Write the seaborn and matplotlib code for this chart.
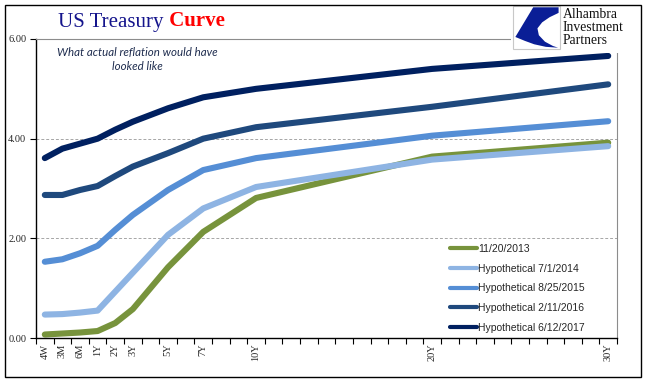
import matplotlib
matplotlib.use("Agg")
import matplotlib.pyplot as plt
from matplotlib.patches import Rectangle, Polygon
import numpy as np
import pandas as pd
import seaborn as sns

sns.set_theme(style="white")
plt.rcParams['font.family'] = ['Liberation Serif', 'DejaVu Serif']

# tenors and their slot on the category axis (one slot per year past 1Y)
tenors = ["4W", "3M", "6M", "1Y", "2Y", "3Y", "5Y", "7Y", "10Y", "20Y", "30Y"]
slots = [0, 1, 2, 3, 4, 5, 7, 9, 12, 22, 32]

curve_2013 = [0.07, 0.09, 0.11, 0.14, 0.30, 0.58, 1.42, 2.13, 2.81, 3.64, 3.92]
hyp_2014 = [0.47, 0.48, 0.51, 0.55, 0.93, 1.31, 2.07, 2.60, 3.03, 3.58, 3.85]
hyp_2015 = [1.53, 1.58, 1.70, 1.85, 2.17, 2.47, 2.97, 3.37, 3.61, 4.06, 4.35]
hyp_2016 = [2.87, 2.87, 2.97, 3.05, 3.25, 3.44, 3.71, 4.00, 4.23, 4.64, 5.09]
hyp_2017 = [3.61, 3.80, 3.90, 4.00, 4.18, 4.34, 4.61, 4.83, 5.00, 5.40, 5.66]

series_names = ["11/20/2013", "Hypothetical 7/1/2014", "Hypothetical 8/25/2015",
                "Hypothetical 2/11/2016", "Hypothetical 6/12/2017"]
series_vals = [curve_2013, hyp_2014, hyp_2015, hyp_2016, hyp_2017]
colors = ["#77933C", "#8EB4E3", "#558ED5", "#1F497D", "#002060"]

rows = []
for name, vals in zip(series_names, series_vals):
    for t, s, v in zip(tenors, slots, vals):
        rows.append({"series": name, "tenor": t, "slot": s, "value": v})
df = pd.DataFrame(rows)

W, H = 647, 381
fig = plt.figure(figsize=(W / 100, H / 100), dpi=100)
fig.patch.set_facecolor("white")
ax = fig.add_axes([36 / W, 1 - 338 / H, (617 - 36) / W, (338 - 39) / H])

sns.lineplot(data=df, x="slot", y="value", hue="series", hue_order=series_names,
             palette=colors, linewidth=4.4, sort=False, ax=ax,
             solid_capstyle="round", solid_joinstyle="round")

ax.set_xlim(-0.5, 32.5)
ax.set_ylim(0, 6)
ax.set_xlabel("")
ax.set_ylabel("")

# y axis
ax.set_yticks([0, 2, 4, 6])
ax.set_yticklabels(["%.2f" % v for v in [0, 2, 4, 6]], fontsize=7.5)
ax.yaxis.grid(True, linestyle=(0, (3, 2)), color="#A6A6A6", linewidth=0.7)
ax.tick_params(axis="y", direction="out", length=4, width=0.8, color="black",
               pad=3, left=True)

# x axis: ticks at category boundaries, labels at category centres
ax.set_xticks(np.arange(-0.5, 33, 1))
ax.set_xticklabels([])
ax.tick_params(axis="x", which="major", direction="out", length=4, width=0.8,
               color="black", bottom=True)
ax.set_xticks(slots, minor=True)
ax.set_xticklabels(tenors, minor=True, rotation=90, fontsize=7.5)
ax.tick_params(axis="x", which="minor", length=0, pad=4, bottom=True)

for side in ["left", "bottom"]:
    ax.spines[side].set_color("black")
    ax.spines[side].set_linewidth(1.0)
for side in ["top", "right"]:
    ax.spines[side].set_color("#8C8C8C")
    ax.spines[side].set_linewidth(0.8)

# legend
handles, labels = ax.get_legend_handles_labels()
leg = ax.legend(handles, labels, loc="upper left",
                bbox_to_anchor=(450 / W, 1 - 244 / H),
                bbox_transform=fig.transFigure, frameon=False,
                prop={"family": "Liberation Sans", "size": 7.5},
                handlelength=2.6, handletextpad=0.1, labelspacing=0.93,
                borderpad=0, borderaxespad=0)
for line in leg.get_lines():
    line.set_linewidth(3.0)
    line.set_solid_capstyle("round")

# title
t1 = fig.text(58 / W, 1 - 31.5 / H, "US Treasury", color="#14148C",
              fontsize=15, va="bottom", ha="left", family="Liberation Serif")
ax.annotate(" Curve", xy=(1, 0), xycoords=t1, va="bottom", ha="left",
            color="#FF0000", fontsize=15, fontweight="bold",
            family="Liberation Serif", annotation_clip=False)

# note
fig.text(137 / W, 1 - 59.5 / H, "What actual reflation would have\nlooked like",
         fontsize=8.3, style="italic", family="Lato", color="#1F2D4F",
         ha="center", va="center", linespacing=1.25)

# logo box
fig.add_artist(Rectangle((511 / W, 1 - 53 / H), (637 - 511) / W, (53 - 5) / H,
                         transform=fig.transFigure, facecolor="white",
                         edgecolor="none", zorder=5))
fig.add_artist(Rectangle((513 / W, 1 - 49 / H), 47 / W, 43 / H,
                         transform=fig.transFigure, facecolor="white",
                         edgecolor="#C8C8C8", linewidth=0.8, zorder=6))
sq = np.array([[0.43, 0.97], [0.97, 0.97], [0.97, 0.84], [0.78, 0.74],
               [0.62, 0.62], [0.52, 0.48], [0.55, 0.32], [0.68, 0.17],
               [0.85, 0.07], [0.96, 0.03], [0.70, 0.05], [0.45, 0.11],
               [0.25, 0.19], [0.05, 0.28]])
pts = np.column_stack([(513 + sq[:, 0] * 47) / W, (H - 49 + sq[:, 1] * 43) / H])
fig.add_artist(Polygon(pts, closed=True, transform=fig.transFigure,
                       facecolor="#0A1E96", edgecolor="none", zorder=7))
for i, word in enumerate(["Alhambra", "Investment", "Partners"]):
    fig.text(563 / W, 1 - (15 + 12.5 * i) / H, word, fontsize=9.8,
             family="Liberation Serif", color="#111111", va="center",
             ha="left", zorder=7)

# outer frame
fig.add_artist(Rectangle((4.5 / W, 1 - 376.5 / H), (640.5 - 4.5) / W,
                         (376.5 - 4.5) / H, transform=fig.transFigure,
                         facecolor="none", edgecolor="black", linewidth=1.0,
                         zorder=8))

fig.savefig("out.png", dpi=100)
